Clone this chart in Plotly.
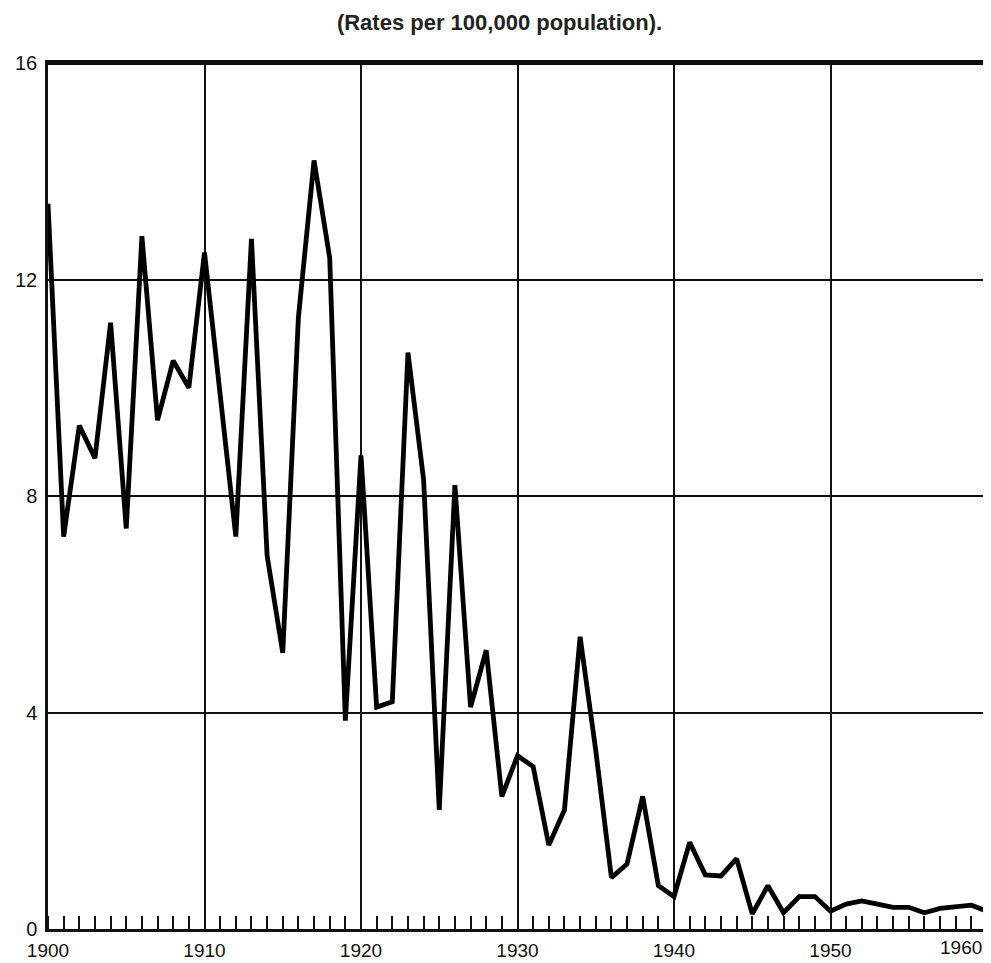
import plotly.graph_objects as go

years = list(range(1900, 1961))
rates = [13.4, 7.25, 9.3, 8.7, 11.2, 7.4, 12.8, 9.4, 10.5, 10.0,
         12.5, 9.9, 7.25, 12.75, 6.9, 5.1, 11.3, 14.2, 12.4, 3.85,
         8.75, 4.1, 4.2, 10.65, 8.3, 2.2, 8.2, 4.1, 5.15, 2.45,
         3.2, 3.0, 1.55, 2.2, 5.4, 3.3, 0.95, 1.2, 2.45, 0.8,
         0.6, 1.6, 1.0, 0.98, 1.3, 0.28, 0.8, 0.3, 0.6, 0.6,
         0.33, 0.46, 0.52, 0.46, 0.4, 0.4, 0.3, 0.38, 0.4, 0.44,
         0.33]

x_ticks = [1900, 1910, 1920, 1930, 1940, 1950]
x_last_label = "1960"
y_ticks = [0, 4, 8, 12, 16]
title_text = "<b>(Rates per 100,000 population).</b>"

font_main = "Liberation Sans, Arial, sans-serif"

fig = go.Figure()
fig.add_trace(go.Scatter(
    x=years, y=rates, mode="lines",
    line=dict(color="black", width=4.8),
    hoverinfo="skip", showlegend=False,
))

fig.update_layout(
    width=983, height=955,
    margin=dict(l=40, r=4, t=55, b=34, autoexpand=False),
    paper_bgcolor="white", plot_bgcolor="white",
    showlegend=False,
    title=dict(text=title_text, x=0.5, xanchor="center", y=0.985, yanchor="middle",
               font=dict(family=font_main, size=22, color="#222")),
)

fig.update_xaxes(
    range=[1900, 1960],
    tickvals=x_ticks, ticktext=[str(v) for v in x_ticks],
    ticks="", showgrid=True, gridcolor="#111", gridwidth=2,
    zeroline=False, automargin=False,
    showline=True, linecolor="#111", linewidth=2.5, mirror=True,
    tickfont=dict(family=font_main, size=19, color="#111"),
    ticklabelstandoff=2,
    minor=dict(dtick=1, tick0=1900, ticks="inside", ticklen=13, tickwidth=2,
               tickcolor="#111", showgrid=False),
)
fig.update_yaxes(
    range=[0, 16],
    tickvals=y_ticks, ticktext=[str(v) for v in y_ticks],
    ticks="", showgrid=True, gridcolor="#111", gridwidth=2,
    zeroline=False, automargin=False,
    showline=True, linecolor="#111", linewidth=2.5, mirror=True,
    tickfont=dict(family=font_main, size=20, color="#111"),
    ticklabelstandoff=4,
)

# thicker top border
fig.add_shape(type="line", xref="paper", yref="paper", x0=0, x1=1, y0=1, y1=1,
              line=dict(color="#111", width=4))

fig.add_annotation(
    x=1960, y=0, xref="x", yref="y", text=x_last_label, showarrow=False,
    xanchor="right", yanchor="top", yshift=-6, xshift=-3,
    font=dict(family=font_main, size=19, color="#111"),
)

fig.write_html("out.html")
